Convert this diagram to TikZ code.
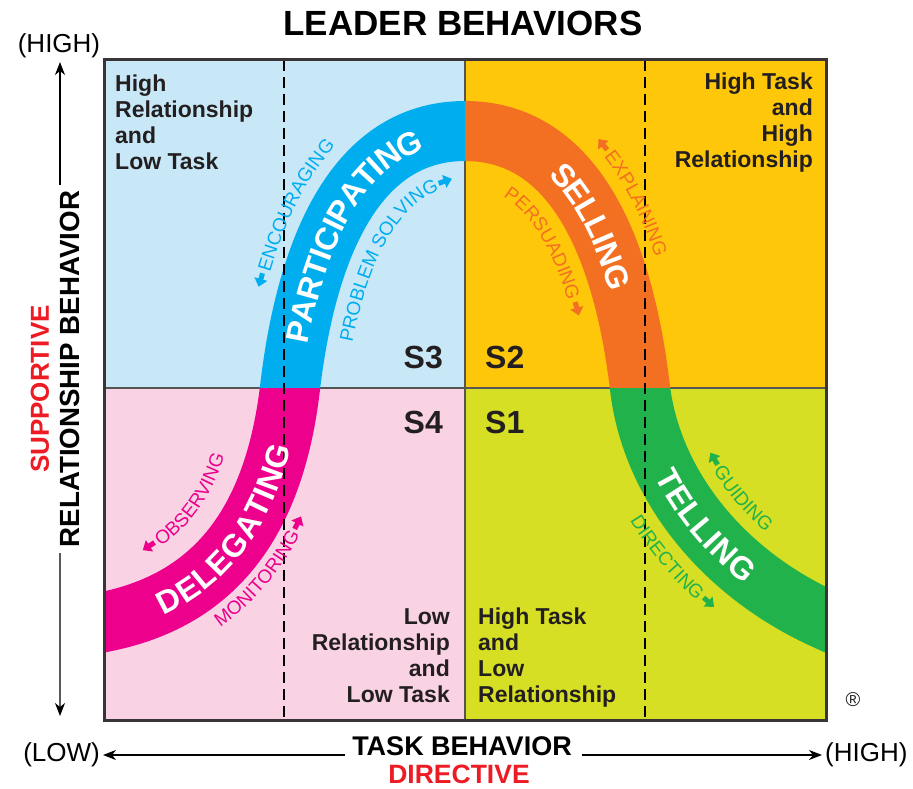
\documentclass[tikz,border=0pt]{standalone}
\usepackage{fontspec}
\setmainfont{Liberation Sans}
\usetikzlibrary{decorations.text,decorations.markings,arrows.meta}
\definecolor{bgTL}{HTML}{C8E8F8}
\definecolor{bgTR}{HTML}{FFC70A}
\definecolor{bgBL}{HTML}{F9D2E4}
\definecolor{bgBR}{HTML}{D6DF23}
\definecolor{bandBlue}{HTML}{00AEEF}
\definecolor{bandOrange}{HTML}{F37022}
\definecolor{bandMagenta}{HTML}{EC008C}
\definecolor{bandGreen}{HTML}{22B24C}
\definecolor{textDark}{HTML}{231F20}
\definecolor{axisRed}{HTML}{ED1C24}
\definecolor{midGray}{HTML}{555555}
\newlength\wPS \newlength\wPER \newlength\wDIR \newlength\wMON
\newcommand\lblfont{\fontsize{19}{19}\selectfont}
\newcommand\bandfont{\fontsize{32}{32}\selectfont\bfseries}
\newcommand\bandpath{(61,631) -- (104,622) .. controls (200,603) and (272,540) .. (290,388) .. controls (305,260) and (350,131) .. (465,131) .. controls (580,131) and (625,260) .. (640,388) .. controls (651.1,481.4) and (719,571.8) .. (826,620) -- (869,639.3)}
\begin{document}
\settowidth\wPS{\lblfont PROBLEM SOLVING}%
\settowidth\wPER{\lblfont PERSUADING}%
\settowidth\wDIR{\lblfont DIRECTING}%
\settowidth\wMON{\lblfont MONITORING}%
\edef\endPS{\the\dimexpr 52pt+\wPS+3pt\relax}%
\edef\endPER{\the\dimexpr 40pt+\wPER+3pt\relax}%
\edef\endDIR{\the\dimexpr 135pt+\wDIR+3pt\relax}%
\edef\endMON{\the\dimexpr 116pt+\wMON+3pt\relax}%
\begin{tikzpicture}[x=1pt,y=-1pt,
  band/.style={line width=60pt},
  lblarrow/.style={line width=5pt,-{Triangle[length=8pt,width=13pt]}},
  axarrow/.style={line width=1.3pt,-{Stealth[length=13pt,width=10pt,inset=4pt]}},
  quad/.style={font=\fontsize{23}{26}\selectfont\bfseries,text=textDark,inner sep=0pt},
  slab/.style={font=\fontsize{32}{32}\selectfont\bfseries,text=textDark,inner sep=0pt},
  axlab/.style={font=\fontsize{27}{27}\selectfont\bfseries,inner sep=0pt},
  endlab/.style={font=\fontsize{26}{26}\selectfont,inner sep=0pt},
  dashline/.style={line width=1.4pt,dash pattern=on 11pt off 6pt}]
\useasboundingbox (0,0) rectangle (913,789);
% quadrants
\fill[bgTL] (104,60) rectangle (465,388);
\fill[bgTR] (465,60) rectangle (826,388);
\fill[bgBL] (104,388) rectangle (465,720);
\fill[bgBR] (465,388) rectangle (826,720);
\draw[midGray,line width=1.5pt] (104,388) -- (826,388);
\draw[midGray,line width=1.5pt] (465,60) -- (465,720);
% band
\begin{scope}\clip (104,60) rectangle (465,388);\draw[band,bandBlue] \bandpath;\end{scope}
\begin{scope}\clip (465,60) rectangle (826,388);\draw[band,bandOrange] \bandpath;\end{scope}
\begin{scope}\clip (104,388) rectangle (465,720);\draw[band,bandMagenta] \bandpath;\end{scope}
\begin{scope}\clip (465,388) rectangle (826,720);\draw[band,bandGreen] \bandpath;\end{scope}
% dashed lines
\draw[dashline] (284,60) -- (284,720);
\draw[dashline] (645,60) -- (645,720);
% border
\draw[line width=3pt,draw=textDark!90] (104,60) rectangle (826,720);
% band labels
\path[decorate,decoration={text along path,text={|\bandfont|DELEGATING},text color=white,text align=center,raise=-11.5pt}]
  (104,622) .. controls (200,603) and (272,540) .. (290,388);
\path[decorate,decoration={text along path,text={|\bandfont|PARTICIPATING},text color=white,text align=center,raise=-11.5pt}]
  (290,388) .. controls (305,260) and (350,131) .. (465,131);
\path[decorate,decoration={text along path,text={|\bandfont|SELLING},text color=white,text align=center,raise=-11.5pt}]
  (465,131) .. controls (580,131) and (625,260) .. (640,388);
\path[decorate,decoration={text along path,text={|\bandfont|TELLING},text color=white,text align=center,raise=-11.5pt}]
  (640,388) .. controls (651.1,481.4) and (719,571.8) .. (826,620);
% small labels: outer side, arrow before the word
\path[postaction={decorate,decoration={text along path,text={|\lblfont|ENCOURAGING},text color=bandBlue,text align={left indent=113pt}}},
      postaction={decorate,decoration={markings,mark=at position 110pt with {\draw[lblarrow,bandBlue] (0pt,7pt) -- (-14pt,7pt);}}}]
  (248.3,383.1) .. controls (262.5,262.1) and (309.1,89) .. (465,89);
\path[postaction={decorate,decoration={text along path,text={|\lblfont|EXPLAINING},text color=bandOrange,text align={left indent=160pt}}},
      postaction={decorate,decoration={markings,mark=at position 157pt with {\draw[lblarrow,bandOrange] (0pt,7pt) -- (-14pt,7pt);}}}]
  (465,89) .. controls (620.9,89) and (667.5,262.1) .. (681.7,383.1);
\path[postaction={decorate,decoration={text along path,text={|\lblfont|GUIDING},text color=bandGreen,text align={left indent=94pt}}},
      postaction={decorate,decoration={markings,mark=at position 91pt with {\draw[lblarrow,bandGreen] (0pt,7pt) -- (-14pt,7pt);}}}]
  (681.7,383) .. controls (690.8,459.6) and (747.5,538.6) .. (843.3,581.7);
\path[postaction={decorate,decoration={text along path,text={|\lblfont|OBSERVING},text color=bandMagenta,text align={left indent=72pt}}},
      postaction={decorate,decoration={markings,mark=at position 69pt with {\draw[lblarrow,bandMagenta] (0pt,7pt) -- (-14pt,7pt);}}}]
  (94.3,573) .. controls (166.7,558.7) and (224.6,515.3) .. (240.35,382.1);
% small labels: inner side, arrow after the word
\path[postaction={decorate,decoration={text along path,text={|\lblfont|PROBLEM SOLVING},text color=bandBlue,text align={left indent=52pt}}},
      postaction={decorate,decoration={markings,mark=at position \endPS with {\draw[lblarrow,bandBlue] (0pt,7pt) -- (14pt,7pt);}}}]
  (344.6,394.4) .. controls (360.7,257.1) and (403.6,186) .. (465,186);
\path[postaction={decorate,decoration={text along path,text={|\lblfont|PERSUADING},text color=bandOrange,text align={left indent=40pt}}},
      postaction={decorate,decoration={markings,mark=at position \endPER with {\draw[lblarrow,bandOrange] (0pt,7pt) -- (14pt,7pt);}}}]
  (465,186) .. controls (526.4,186) and (569.3,257.1) .. (585.4,394.4);
\path[postaction={decorate,decoration={text along path,text={|\lblfont|DIRECTING},text color=bandGreen,text align={left indent=135pt}}},
      postaction={decorate,decoration={markings,mark=at position \endDIR with {\draw[lblarrow,bandGreen] (0pt,7pt) -- (14pt,7pt);}}}]
  (585.4,394.5) .. controls (599.1,509.9) and (681.4,615.2) .. (803.4,670.1);
\path[postaction={decorate,decoration={text along path,text={|\lblfont|MONITORING},text color=bandMagenta,text align={left indent=116pt}}},
      postaction={decorate,decoration={markings,mark=at position \endMON with {\draw[lblarrow,bandMagenta] (0pt,7pt) -- (14pt,7pt);}}}]
  (113.7,671.05) .. controls (233.5,647.35) and (319.45,564.7) .. (339.65,393.9);
% quadrant texts
\node[quad,anchor=north west,align=left] (qtl) at (115,75) {High\\Relationship\\and\\Low Task};
\node[quad,anchor=north east,align=right] (qtr) at (813,73) {High Task\\and\\High\\Relationship};
\node[quad,anchor=north east,align=right] (qbl) at (450,608) {Low\\Relationship\\and\\Low Task};
\node[quad,anchor=north west,align=left] (qbr) at (478,608) {High Task\\and\\Low\\Relationship};
% style labels
\node[slab,anchor=base east] (s3) at (443,368) {S3};
\node[slab,anchor=base west] (s2) at (485,368) {S2};
\node[slab,anchor=base east] (s4) at (443,433) {S4};
\node[slab,anchor=base west] (s1) at (485,433) {S1};
\node[font=\fontsize{20}{20}\selectfont,text=textDark,inner sep=0pt] (reg) at (853,700) {®};
% title
\node[font=\fontsize{35}{35}\selectfont\bfseries,anchor=base,inner sep=0pt] (title) at (463,36) {LEADER BEHAVIORS};
% horizontal axis
\node[axlab,anchor=base] (task) at (462,755) {TASK BEHAVIOR};
\node[axlab,anchor=base,text=axisRed,font=\fontsize{26.5}{26.5}\selectfont\bfseries] (directive) at (459,783) {DIRECTIVE};
\node[endlab,anchor=east] (low) at (100,755) {(LOW)};
\node[endlab,anchor=west] (highx) at (825,755) {(HIGH)};
\draw[axarrow,shorten <=7pt,shorten >=3pt] (task.base west) -- (low.east);
\draw[axarrow,shorten <=10pt,shorten >=3pt] (task.base east) -- (highx.west);
% vertical axis
\node[axlab,rotate=90,font=\fontsize{27.7}{27.7}\selectfont\bfseries] (rel) at (70,369) {RELATIONSHIP BEHAVIOR};
\node[axlab,rotate=90,text=axisRed,font=\fontsize{26}{26}\selectfont\bfseries] (supp) at (40,389) {SUPPORTIVE};
\node[endlab,anchor=south] (highy) at (59,58) {(HIGH)};
\coordinate (vbot) at (60,716);
\draw[axarrow,shorten <=6pt,shorten >=4pt] (rel.north east) -- (highy.south -| rel.north east);
\draw[axarrow,shorten <=6pt] (rel.north west) -- (vbot);
\end{tikzpicture}
\end{document}
